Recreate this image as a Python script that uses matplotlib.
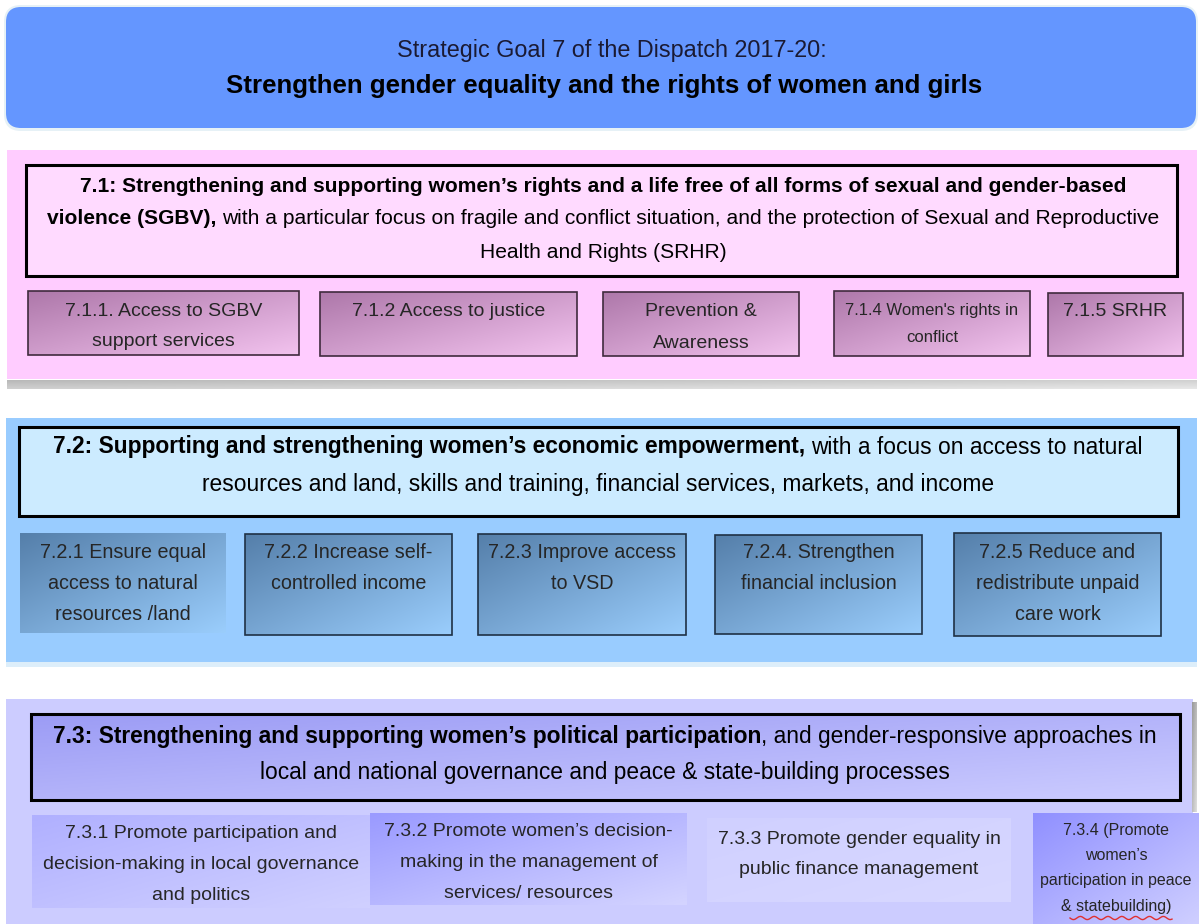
import matplotlib
matplotlib.use("Agg")
import matplotlib.pyplot as plt
import numpy as np
from matplotlib.patches import Rectangle, FancyBboxPatch
from matplotlib import colors as mcolors

plt.rcParams['font.family'] = ['Liberation Sans', 'DejaVu Sans']

W, H = 1199, 924

# texts of the diagram
goal_title = "Strategic Goal 7 of the Dispatch 2017-20:"
goal_text = "Strengthen gender equality and the rights of women and girls"

obj1_lines = [
    [("7.1: Strengthening and supporting women’s rights and a life free of all forms of sexual and gender-based", "bold")],
    [("violence (SGBV),", "bold"), (" with a particular focus on fragile and conflict situation, and the protection of Sexual and Reproductive", "normal")],
    [("Health and Rights (SRHR)", "normal")],
]
obj2_lines = [
    [("7.2: Supporting and strengthening women’s economic empowerment,", "bold"), (" with a focus on access to natural", "normal")],
    [("resources and land, skills and training, financial services, markets, and income", "normal")],
]
obj3_lines = [
    [("7.3: Strengthening and supporting women’s political participation", "bold"), (", and gender-responsive approaches in", "normal")],
    [("local and national governance and peace & state-building processes", "normal")],
]

sub1 = ["7.1.1. Access to SGBV\nsupport services", "7.1.2 Access to justice", "Prevention &\nAwareness",
        "7.1.4 Women's rights in\nconflict", "7.1.5 SRHR"]
sub2 = ["7.2.1 Ensure equal\naccess to natural\nresources /land", "7.2.2 Increase self-\ncontrolled income",
        "7.2.3 Improve access\nto VSD", "7.2.4. Strengthen\nfinancial inclusion",
        "7.2.5 Reduce and\nredistribute unpaid\ncare work"]
sub3 = ["7.3.1 Promote participation and\ndecision-making in local governance\nand politics",
        "7.3.2 Promote women’s decision-\nmaking in the management of\nservices/ resources",
        "7.3.3 Promote gender equality in\npublic finance management",
        "7.3.4 (Promote\nwomen’s\nparticipation in peace\n& statebuilding)"]

# layout: (x0, y0, x1, y1, first line y, line step, font size)
lay1 = [(28, 291, 299, 355, 311, 31, 14), (320, 292, 577, 356, 312, 31, 14), (603, 292, 799, 356, 312, 31, 14),
        (834, 291, 1030, 356, 310, 28, 12), (1048, 293, 1183, 356, 312, 31, 14)]
lay2 = [(20, 533, 226, 633, 553, 30.5, 14.2), (245, 534, 452, 635, 553, 30.5, 14.2), (478, 534, 686, 635, 553, 30.5, 14.2),
        (715, 535, 922, 634, 553, 30.5, 14.2), (954, 533, 1161, 636, 553, 30.5, 14.2)]
lay3 = [(32, 815, 370, 908, 834, 30.5, 14), (370, 813, 687, 905, 832, 30.5, 14), (707, 818, 1011, 902, 839, 31, 14),
        (1033, 813, 1199, 924, 830, 25.5, 11.5)]

fig = plt.figure(figsize=(W / 100, H / 100), dpi=100)
ax = fig.add_axes([0, 0, 1, 1])
ax.set_xlim(0, W)
ax.set_ylim(H, 0)
ax.axis('off')
rend = fig.canvas.get_renderer()


def grad_box(x0, y0, x1, y1, c_tl, c_br, edge=None, lw=1.2, z=2):
    a = np.array(mcolors.to_rgb(c_tl))
    b = np.array(mcolors.to_rgb(c_br))
    u = np.linspace(0, 1, 64)
    t = (u[None, :] * 0.5 + u[:, None] * 0.5)
    img = a + (b - a) * t[..., None]
    ax.imshow(img, extent=(x0, x1, y1, y0), origin='upper', aspect='auto',
              interpolation='bilinear', zorder=z)
    if edge:
        ax.add_patch(Rectangle((x0, y0), x1 - x0, y1 - y0, fill=False, ec=edge, lw=lw, zorder=z + 1))


def text_width(s, size, weight):
    t = ax.text(0, 0, s, fontsize=size, fontweight=weight)
    w = t.get_window_extent(renderer=rend).width
    t.remove()
    return w


def mixed_line(cx, y, parts, size, color='black'):
    pieces = []
    total = 0
    for s, wgt in parts:
        gap = 0
        if s.startswith(' '):
            gap = text_width('a a', size, wgt) - text_width('aa', size, wgt)
            s = s.lstrip()
        w = text_width(s, size, wgt)
        pieces.append((s, wgt, gap, w))
        total += gap + w
    x = cx - total / 2
    for s, wgt, gap, w in pieces:
        x += gap
        ax.text(x, y, s, fontsize=size, fontweight=wgt, ha='left', va='center', color=color, zorder=6)
        x += w


def sub_texts(labels, layout, color='#262626'):
    for lab, (x0, y0, x1, y1, ly, step, fs) in zip(labels, layout):
        for i, line in enumerate(lab.split('\n')):
            ax.text((x0 + x1) / 2, ly + i * step, line, fontsize=fs, ha='center', va='center',
                    color=color, zorder=6)


# top banner
ax.add_patch(FancyBboxPatch((4, 5), 1194, 126, boxstyle="round,pad=0,rounding_size=17",
                            fc='#E6F1F6', ec='none', zorder=1))
ax.add_patch(FancyBboxPatch((6, 7), 1190, 121, boxstyle="round,pad=0,rounding_size=15",
                            fc='#6496FF', ec='none', zorder=2))
mixed_line(W / 2 + 12, 50, [(goal_title, 'normal')], 16.8, color='#1a1a33')
mixed_line(W / 2 + 5, 86, [(goal_text, 'bold')], 18.6)

# panel 7.1
ax.add_patch(Rectangle((7, 150), 1190, 229, fc='#FFCCFF', ec='none', zorder=1))
grad_box(7, 380, 1197, 389, '#B8B8B8', '#E8E8E8', z=1)
ax.add_patch(Rectangle((26, 165), 1151, 111, fc='#FFDAFF', ec='black', lw=2.2, zorder=3))
for i, parts in enumerate(obj1_lines):
    mixed_line(603, 186 + i * 33, parts, 15.1)
for x0, y0, x1, y1, *_ in lay1:
    grad_box(x0, y0, x1, y1, '#AE78AA', '#F2C2EE', edge='#3f2a3d')
sub_texts(sub1, lay1)

# panel 7.2
ax.add_patch(Rectangle((6, 418), 1191, 244, fc='#99CCFF', ec='none', zorder=1))
ax.add_patch(Rectangle((6, 662), 1191, 5, fc='#DDEEFA', ec='none', zorder=1))
ax.add_patch(Rectangle((19, 427), 1159, 89, fc='#CCEBFF', ec='black', lw=2.2, zorder=3))
for i, parts in enumerate(obj2_lines):
    mixed_line(598, 447 + i * 38, parts, 16.4)
for k, (x0, y0, x1, y1, *_) in enumerate(lay2):
    grad_box(x0, y0, x1, y1, '#557FAA', '#9ACDFC', edge=None if k == 0 else '#1f3145')
sub_texts(sub2, lay2)

# panel 7.3
ax.add_patch(Rectangle((6, 699), 1187, 225, fc='#CCCCFF', ec='none', zorder=1))
grad_box(1192, 702, 1197, 812, '#999999', '#E0E0E0', z=1)
grad_box(31, 714, 1180, 800, '#9C9CF5', '#CBCBFF', edge='black', lw=2.2, z=2)
for i, parts in enumerate(obj3_lines):
    mixed_line(605, 737 + i * 36, parts, 16.4)
sub_cols = [('#B0B0FF', '#D0D0FF'), ('#9A9AFF', '#D4D4FF'), ('#D0D0FF', '#D8D8FF'), ('#9090FF', '#CFCFFF')]
for (x0, y0, x1, y1, *_), (c1, c2) in zip(lay3, sub_cols):
    grad_box(x0, y0, x1, y1, c1, c2)
sub_texts(sub3, lay3)

# spell-check squiggle under "statebuilding)"
sx = np.linspace(1070, 1172, 80)
ax.plot(sx, 918 + 1.6 * np.sin((sx - 1070) / 2.2), color='#E03030', lw=1, zorder=7)

ax.set_xlim(0, W)
ax.set_ylim(H, 0)
fig.savefig('out.png', dpi=100)
